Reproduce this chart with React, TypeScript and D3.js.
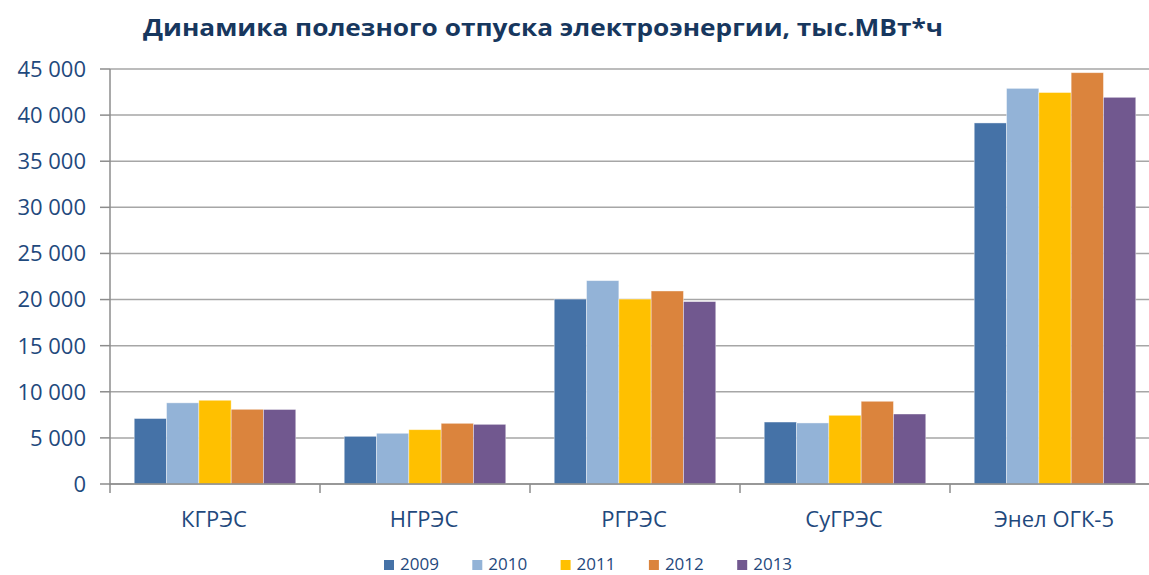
import React from "react";
import * as d3 from "d3";

const title = "Динамика полезного отпуска электроэнергии, тыс.МВт*ч";
const categories = ["КГРЭС", "НГРЭС", "РГРЭС", "СуГРЭС", "Энел ОГК-5"];
const years = ["2009", "2010", "2011", "2012", "2013"];
const v2009 = [7100, 5170, 20050, 6720, 39150];
const v2010 = [8800, 5500, 22050, 6620, 42900];
const v2011 = [9080, 5890, 20050, 7450, 42450];
const v2012 = [8100, 6580, 20930, 8970, 44600];
const v2013 = [8080, 6470, 19780, 7590, 41930];
const seriesValues = [v2009, v2010, v2011, v2012, v2013];
const colors = ["#4572A7", "#93B3D7", "#FFC000", "#DB843D", "#71588F"];
const yTicks = [0, 5000, 10000, 15000, 20000, 25000, 30000, 35000, 40000, 45000];

const W = 1149;
const H = 575;
const left = 110;
const right = 1160;
const top = 69;
const bottom = 484;

const locale = d3.formatLocale({ decimal: ",", thousands: " ", grouping: [3], currency: ["", ""] });
const fmt = locale.format(",d");

export default function App() {
  const x = d3.scaleBand<string>().domain(categories).range([left, right]).paddingInner(0).paddingOuter(0);
  const xs = d3.scaleBand<string>().domain(years).range([0, x.bandwidth()]).paddingInner(0).paddingOuter(0.75);
  const y = d3.scaleLinear().domain([0, 45000]).range([bottom, top]);
  const textColor = "#1F497D";
  const font = "'Open Sans', sans-serif";

  return (
    <svg width={W} height={H} style={{ position: "absolute", left: 0, top: 0, background: "#fff" }} fontFamily={font}>
      <text x={543} y={36} textAnchor="middle" fontSize={24} fontWeight="bold" fill="#17375E" textLength={800} lengthAdjust="spacingAndGlyphs">
        {title}
      </text>
      {yTicks.map((t) => (
        <g key={t}>
          <line x1={left} x2={W} y1={y(t)} y2={y(t)} stroke="#A6A6A6" strokeWidth={1.5} />
          <line x1={left - 10} x2={left} y1={y(t)} y2={y(t)} stroke="#8C8C8C" strokeWidth={1.5} />
          <text x={86} y={y(t)} dy="0.36em" textAnchor="end" fontSize={22} fill={textColor}>
            {fmt(t)}
          </text>
        </g>
      ))}
      {seriesValues.map((vals, si) => (
        <g key={years[si]}>
          {vals.map((v, ci) => (
            <rect
              key={ci}
              x={(x(categories[ci]) as number) + (xs(years[si]) as number)}
              y={y(v)}
              width={xs.bandwidth()}
              height={y(0) - y(v)}
              fill={colors[si]}
              stroke="rgba(255,255,255,0.5)"
              strokeWidth={0.8}
            />
          ))}
        </g>
      ))}
      <line x1={left} x2={left} y1={top} y2={bottom + 1} stroke="#8C8C8C" strokeWidth={1.5} />
      <line x1={left} x2={W} y1={bottom} y2={bottom} stroke="#8C8C8C" strokeWidth={1.5} />
      {categories.map((c, i) => (
        <line key={"tk" + i} x1={(x(c) as number)} x2={(x(c) as number)} y1={bottom} y2={bottom + 9} stroke="#8C8C8C" strokeWidth={1.5} />
      ))}
      {categories.map((c) => (
        <text key={c} x={(x(c) as number) + x.bandwidth() / 2 - 1} y={527} textAnchor="middle" fontSize={22} fill={textColor}>
          {c}
        </text>
      ))}
      {years.map((yr, i) => (
        <g key={yr} transform={`translate(${384 + i * 88.3},0)`}>
          <rect x={0} y={560} width={10} height={10} fill={colors[i]} />
          <text x={16} y={570} fontSize={17} fill={textColor}>
            {yr}
          </text>
        </g>
      ))}
    </svg>
  );
}
